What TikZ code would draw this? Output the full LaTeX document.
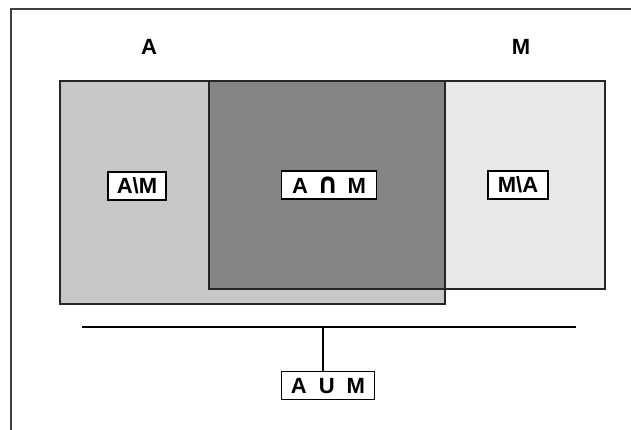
\documentclass[tikz,border=0pt]{standalone}
\usepackage{fontspec}
\setmainfont{Liberation Sans}
\newfontfamily\symfont{DejaVu Sans}
\newcommand{\gap}{\hspace{9pt}}
\newcommand{\widegap}{\hspace{12pt}}
% cap-height intersection sign
\newcommand{\bigcapsign}{\scalebox{1.2}[1.3]{\symfont\bfseries ∩}}
\begin{document}
\begin{tikzpicture}[x=1pt,y=-1pt,
  setlabel/.style={font=\fontsize{22}{24}\bfseries},
  partbox/.style={draw=black, fill=white, line width=1.4pt, inner sep=0pt,
    minimum height=28pt, font=\fontsize{22}{24}\bfseries},
  region/.style={draw=black!85, line width=2pt},
  rule/.style={draw=black, line width=1.6pt}]
\useasboundingbox (0,0) rectangle (631,430);
% outer frame (open to the right and bottom)
\draw[draw=black!75, line width=2.2pt] (11,430) -- (11,9) -- (631,9);
% set A, set M and their intersection
\fill[black!22] (60,81) rectangle (445,304);
\fill[black!9] (445,81) rectangle (605,289);
\fill[black!48] (209,81) rectangle (445,289);
\draw[region] (60,81) rectangle (445,304);
\draw[region] (209,81) rectangle (605,289);
% set names
\node[setlabel] (la) at (149,47) {A};
\node[setlabel] (lm) at (521,47) {M};
% parts
\node[partbox, minimum width=58pt] (amm) at (137,186) {A\textbackslash M};
\node[partbox, minimum width=95pt] (cap) at (329,185) {A\gap\bigcapsign\gap M};
\node[partbox, minimum width=60pt] (mma) at (518,185) {M\textbackslash A};
% union bracket
\coordinate (ul) at (82,327);
\coordinate (ur) at (576,327);
\node[partbox, minimum width=93pt, anchor=north] (cup) at (328,371) {A\widegap U\widegap M};
\draw[rule] (ul) -- (ur);
\draw[rule] (cup.north -| 323,0) -- (323,327);
\end{tikzpicture}
\end{document}
